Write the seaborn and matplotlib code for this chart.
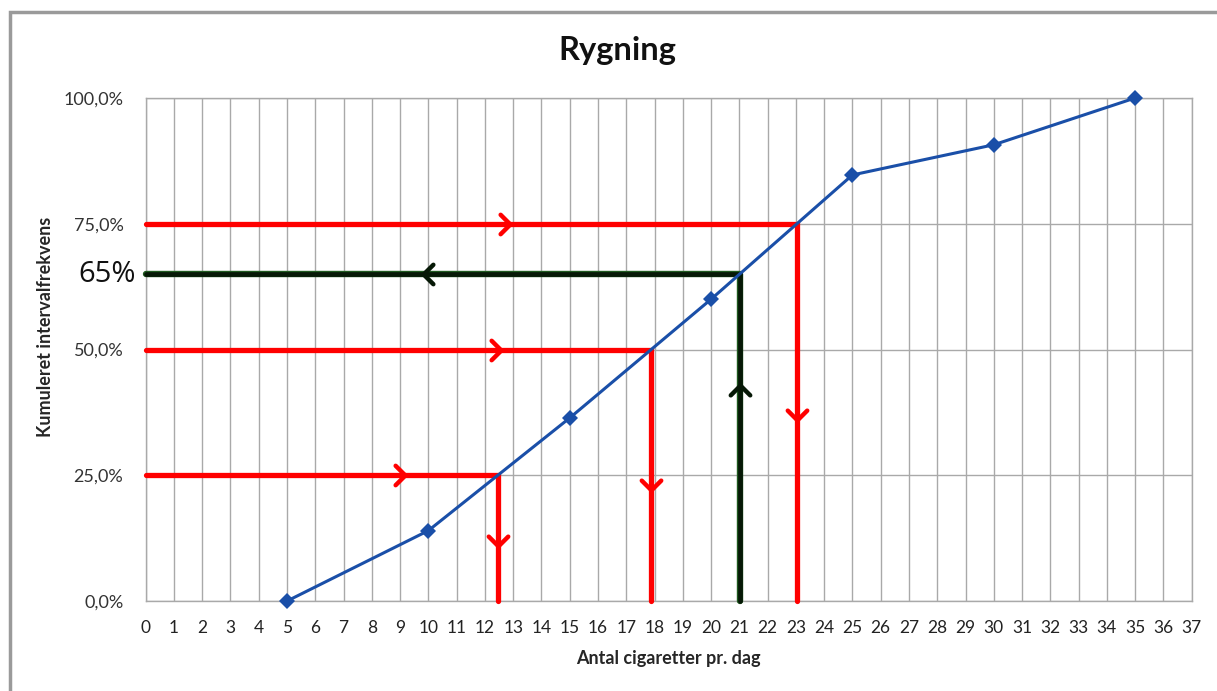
import numpy as np
import pandas as pd
import seaborn as sns
import matplotlib.pyplot as plt
from matplotlib.path import Path
from matplotlib.markers import MarkerStyle
from matplotlib.patches import Rectangle
from matplotlib.ticker import FuncFormatter

# Cumulative frequency of cigarettes smoked per day
cigarettes = [5, 10, 15, 20, 25, 30, 35]
cumulative_pct = [0.0, 14.0, 36.4, 60.0, 84.7, 90.7, 100.0]

# Quartile read-offs (red) and the 65% read-off (dark green)
quartile_levels = [25, 50, 75]
level_65 = 65

# Where the direction chevrons sit along each guide
quartile_h_arrow_x = [9.0, 12.4, 12.7]      # on the horizontal parts (pointing right)
quartile_v_arrow_y = [12.0, 23.0, 37.0]     # on the vertical parts (pointing down)
green_h_arrow_x = 10.0                       # pointing left
green_v_arrow_y = 42.0                       # pointing up

x_ticks = list(range(0, 38))
y_ticks = [0, 25, 50, 75, 100]

sns.set_theme(style="white")
plt.rcParams["font.family"] = ["Lato", "DejaVu Sans"]

fig = plt.figure(figsize=(12.17, 6.91), dpi=100)
ax = fig.add_axes([0.1197, 0.1302, 0.8595, 0.7280])

df = pd.DataFrame({"x": cigarettes, "y": cumulative_pct})
sns.lineplot(data=df, x="x", y="y", ax=ax, color="#1a4fa8", linewidth=2.2,
             marker="D", markersize=8, markeredgewidth=0, zorder=6, clip_on=False)

ax.set_xlim(0, 37)
ax.set_ylim(0, 100)
ax.set_xticks(x_ticks)
ax.set_yticks(y_ticks)
ax.yaxis.set_major_formatter(FuncFormatter(lambda v, p: f"{v:.1f}%".replace(".", ",")))

grid_c = "#a9a9a9"
ax.grid(True, color=grid_c, linewidth=1.0)
for s in ax.spines.values():
    s.set_color(grid_c)
    s.set_linewidth(1.0)
ax.tick_params(axis="x", length=4, color=grid_c, labelsize=12.5, labelcolor="#222222", pad=10)
ax.tick_params(axis="y", length=0, labelsize=13, labelcolor="#333333", pad=16)

ax.set_xlabel("Antal cigaretter pr. dag", fontsize=13, fontweight="bold", labelpad=10)
ax.set_ylabel("Kumuleret intervalfrekvens", fontsize=13, fontweight="bold")
ax.yaxis.set_label_coords(-0.088, 0.545)
fig.suptitle("Rygning", x=0.507, y=0.927, va="center", fontsize=23.5,
             fontweight="bold", color="#111111")

# Open chevron marker, pointing right in its base orientation
chevron = Path([(-0.5, 1.0), (0.5, 0.0), (-0.5, -1.0)],
               [Path.MOVETO, Path.LINETO, Path.LINETO])


def chevron_marker(angle):
    m = MarkerStyle(chevron, joinstyle="round", capstyle="round")
    return m.rotated(deg=angle)


def guide(level, color, lw, h_arrow_x, v_arrow_y, reverse=False, edge=None):
    xq = float(np.interp(level, cumulative_pct, cigarettes))
    kw = dict(color=color, linewidth=lw, solid_capstyle="round",
              solid_joinstyle="miter", zorder=4, clip_on=False)
    if edge is not None:
        ax.plot([0, xq, xq], [level, level, 0], color=edge, linewidth=lw + 1.2,
                solid_capstyle="round", zorder=3.9, clip_on=False)
    ax.plot([0, xq, xq], [level, level, 0], **kw)
    h_ang = 180 if reverse else 0
    v_ang = 90 if reverse else -90
    for xa, ya, ang in [(h_arrow_x, level, h_ang), (xq, v_arrow_y, v_ang)]:
        ax.plot([xa], [ya], linestyle="none", marker=chevron_marker(ang),
                markersize=14, markerfacecolor="none", markeredgecolor=color,
                markeredgewidth=3.2, zorder=5, clip_on=False)
    return xq


for lvl, hx, vy in zip(quartile_levels, quartile_h_arrow_x, quartile_v_arrow_y):
    guide(lvl, "#ff0000", 3.8, hx, vy)

guide(level_65, "#061806", 3.4, green_h_arrow_x, green_v_arrow_y,
      reverse=True, edge="#1f5a1f")

# Large label for the 65% read-off on the value axis
ax.text(-0.009, level_65, "65%", transform=ax.get_yaxis_transform(),
        ha="right", va="center", fontsize=21, color="#111111",
        fontfamily=["Open Sans", "DejaVu Sans"])

# Chart-area frame
fig.patches.append(Rectangle((0.008, -0.02), 1.2, 1.003,
                             transform=fig.transFigure, fill=False,
                             edgecolor="#9a9a9a", linewidth=2.5))

fig.savefig("out.png", dpi=100)
